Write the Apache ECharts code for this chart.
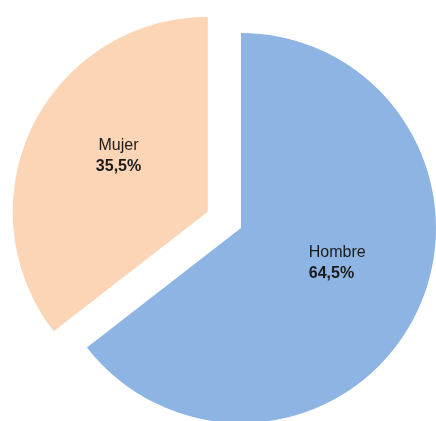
<!DOCTYPE html>
<html lang="es">
<head>
<meta charset="UTF-8">
<title>pie</title>
<script src="https://cdn.jsdelivr.net/npm/echarts@6/dist/echarts.min.js"></script>
<style>html,body{margin:0;padding:0;background:#fff}</style>
</head>
<body>
<div id="main" style="width:436px;height:421px"></div>
<script>
var categories = ['Hombre', 'Mujer'];
var values = [64.5, 35.5];
var colors = ['#8EB4E3', '#FBD5B5'];

var chart = echarts.init(document.getElementById('main'));
var font = '"Liberation Sans Narrow", "Liberation Sans", Arial, sans-serif';

// ajuste fino de la posicion de las etiquetas
var labelTweak = {
    Hombre: { offset: [6, -9], align: 'left' },
    Mujer: { offset: [1, -11], align: 'center' }
};

var data = categories.map(function (name, i) {
    var t = labelTweak[name];
    var lbl = {
        offset: t.offset,
        rich: {
            n: { align: t.align },
            v: { align: t.align }
        }
    };
    return {
        name: name,
        value: values[i],
        selected: name === 'Mujer',
        itemStyle: { color: colors[i] },
        label: lbl,
        select: { label: lbl, itemStyle: { color: colors[i] } }
    };
});

chart.setOption({
    backgroundColor: '#fff',
    animation: false,
    series: [{
        type: 'pie',
        center: [241, 228],
        radius: 195,
        startAngle: 90,
        clockwise: true,
        selectedMode: 'single',
        selectedOffset: 37,
        emphasis: { disabled: true },
        label: {
            position: 'inner',
            formatter: function (p) {
                return '{n|' + p.name + '}\n{v|' + p.value.toFixed(1).replace('.', ',') + '%}';
            },
            rich: {
                n: { fontFamily: font, fontSize: 16, color: '#1a1a1a', lineHeight: 21 },
                v: { fontFamily: font, fontSize: 16, fontWeight: 'bold', color: '#1a1a1a', lineHeight: 21 }
            }
        },
        labelLine: { show: false },
        data: data
    }]
});
</script>
</body>
</html>
